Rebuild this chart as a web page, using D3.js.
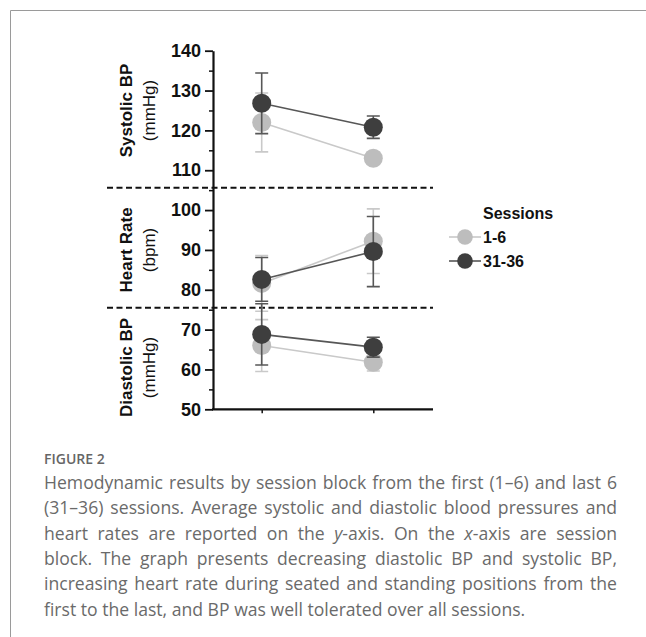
<!DOCTYPE html>
<html>
<head>
<meta charset="utf-8">
<script src="https://cdn.jsdelivr.net/npm/d3@7"></script>
<style>
  html, body { margin: 0; padding: 0; background: #fff; }
  svg { display: block; }
  .axis path, .axis line { stroke: #111; }
  .axis text { font-family: "Liberation Sans", Arial, sans-serif; font-weight: bold; font-size: 18px; fill: #111; }
</style>
</head>
<body>
<svg width="646" height="637"></svg>
<script>
//data
var positions = ["Seated", "Standing"];
var sessions = ["1-6", "31-36"];

var sbpEarly = [122.0, 113.0], sbpEarlyErr = [7.4, 1.5];
var sbpLate = [126.8, 120.8], sbpLateErr = [7.6, 2.8];
var hrEarly = [81.6, 92.2], hrEarlyErr = [7.0, 8.1];
var hrLate = [82.6, 89.6], hrLateErr = [5.5, 8.8];
var dbpEarly = [66.0, 61.8], dbpEarlyErr = [6.5, 2.2];
var dbpLate = [68.8, 65.6], dbpLateErr = [7.7, 2.5];

var yTicks = [50, 60, 70, 80, 90, 100, 110, 120, 130, 140];
var dividers = [105.6, 75.5];

var panelLabels = [
    { title: "Systolic BP", unit: "(mmHg)", mid: 125 },
    { title: "Heart Rate", unit: "(bpm)", mid: 90 },
    { title: "Diastolic BP", unit: "(mmHg)", mid: 60.5 }
];

var caption = [
    "Hemodynamic results by session block from the first (1\u20136) and last 6",
    "(31\u201336) sessions. Average systolic and diastolic blood pressures and",
    "heart rates are reported on the |y|-axis. On the |x|-axis are session",
    "block. The graph presents decreasing diastolic BP and systolic BP,",
    "increasing heart rate during seated and standing positions from the",
    "first to the last, and BP was well tolerated over all sessions."
];

var colors = { "1-6": "#bdbdbd", "31-36": "#3e3e3e" };
var lineColors = { "1-6": "#c9c9c9", "31-36": "#575757" };

var svg = d3.select("svg");

//frame
svg.append("path")
    .attr("d", "M10.5,637 L10.5,10.5 L646,10.5")
    .attr("fill", "none")
    .attr("stroke", "#9a9a9a")
    .attr("stroke-width", 1);

//scales
var y = d3.scaleLinear().domain([50, 140]).range([409.3, 50.7]);
var x = d3.scalePoint().domain(positions).range([261.7, 373.3]);
var axisX = 213, axisEnd = 433;

//dashed dividers
svg.selectAll(".divider")
    .data(dividers)
    .enter()
    .append("line")
    .attr("x1", 107).attr("x2", axisEnd)
    .attr("y1", function (d) { return y(d); })
    .attr("y2", function (d) { return y(d); })
    .attr("stroke", "#111")
    .attr("stroke-width", 2)
    .attr("stroke-dasharray", "6,3.5");

//y axis minor ticks
svg.append("g")
    .attr("class", "axis")
    .attr("transform", "translate(" + axisX + ",0)")
    .call(d3.axisLeft(y).tickValues(d3.range(55, 140, 10)).tickSize(4).tickSizeOuter(0).tickFormat(""))
    .call(function (g) { g.select(".domain").remove(); })
    .selectAll("line").attr("stroke-width", 1.5);

//y axis major
var yAxis = svg.append("g")
    .attr("class", "axis")
    .attr("transform", "translate(" + axisX + ",0)")
    .call(d3.axisLeft(y).tickValues(yTicks).tickSize(8).tickSizeOuter(0).tickPadding(4));
yAxis.select(".domain").attr("stroke-width", 2.2);
yAxis.selectAll(".tick line").attr("stroke-width", 1.8);

//x axis
var xAxis = svg.append("g")
    .attr("class", "axis")
    .attr("transform", "translate(0," + y(50) + ")")
    .call(d3.axisBottom(x).tickSize(4).tickSizeOuter(0).tickFormat(""));
xAxis.select(".domain").remove();
xAxis.selectAll(".tick line").attr("stroke-width", 1.5);
xAxis.append("line")
    .attr("x1", axisX - 1).attr("x2", axisEnd)
    .attr("stroke", "#111")
    .attr("stroke-width", 2.2);

//series
var series = [
    { name: "1-6", values: sbpEarly, err: sbpEarlyErr },
    { name: "1-6", values: hrEarly, err: hrEarlyErr },
    { name: "1-6", values: dbpEarly, err: dbpEarlyErr },
    { name: "31-36", values: sbpLate, err: sbpLateErr },
    { name: "31-36", values: hrLate, err: hrLateErr },
    { name: "31-36", values: dbpLate, err: dbpLateErr }
];

var line = d3.line()
    .x(function (d) { return x(d.pos); })
    .y(function (d) { return y(d.v); });

var capW = 6.5;

series.forEach(function (s) {
    var pts = s.values.map(function (v, i) { return { pos: positions[i], v: v, e: s.err[i] }; });
    var g = svg.append("g").attr("class", "series");

    g.selectAll(".err")
        .data(pts)
        .enter()
        .append("path")
        .attr("fill", "none")
        .attr("stroke", lineColors[s.name])
        .attr("stroke-width", 1.6)
        .attr("d", function (d) {
            var cx = x(d.pos), t = y(d.v + d.e), b = y(d.v - d.e);
            return "M" + (cx - capW) + "," + t + "H" + (cx + capW) +
                "M" + cx + "," + t + "V" + b +
                "M" + (cx - capW) + "," + b + "H" + (cx + capW);
        });

    g.append("path")
        .datum(pts)
        .attr("fill", "none")
        .attr("stroke", lineColors[s.name])
        .attr("stroke-width", 1.6)
        .attr("d", line);

    g.selectAll("circle")
        .data(pts)
        .enter()
        .append("circle")
        .attr("cx", function (d) { return x(d.pos); })
        .attr("cy", function (d) { return y(d.v); })
        .attr("r", 9.5)
        .attr("fill", colors[s.name]);
});

//panel labels
var labels = svg.selectAll(".plabel")
    .data(panelLabels)
    .enter()
    .append("g")
    .attr("class", "plabel")
    .style("font-family", "'Liberation Sans', Arial, sans-serif")
    .style("font-size", "17px")
    .attr("fill", "#111");

labels.append("text")
    .attr("transform", function (d) { return "translate(132," + y(d.mid) + ") rotate(-90)"; })
    .attr("text-anchor", "middle")
    .style("font-weight", "bold")
    .text(function (d) { return d.title; });

labels.append("text")
    .attr("transform", function (d) { return "translate(155," + y(d.mid) + ") rotate(-90)"; })
    .attr("text-anchor", "middle")
    .text(function (d) { return d.unit; });

//legend
var legend = svg.append("g")
    .attr("transform", "translate(449,219)")
    .style("font-family", "'Liberation Sans', Arial, sans-serif")
    .style("font-weight", "bold")
    .style("font-size", "16px")
    .attr("fill", "#111");

legend.append("text").attr("x", 34).attr("y", 0).text("Sessions");

var item = legend.selectAll(".item")
    .data(sessions)
    .enter()
    .append("g")
    .attr("class", "item")
    .attr("transform", function (d, i) { return "translate(0," + (18 + i * 24) + ")"; });

item.append("line")
    .attr("x1", 0).attr("x2", 32)
    .attr("stroke", function (d) { return lineColors[d]; })
    .attr("stroke-width", 1.6);
item.append("circle")
    .attr("cx", 16).attr("r", 7.8)
    .attr("fill", function (d) { return colors[d]; });
item.append("text")
    .attr("x", 34).attr("dy", "0.38em")
    .text(function (d) { return d; });

//caption
svg.append("text")
    .attr("x", 44).attr("y", 464)
    .style("font-family", "'Open Sans', 'Noto Sans', sans-serif")
    .style("font-weight", 600)
    .style("font-size", "14px")
    .attr("fill", "#666")
    .text("FIGURE 2");

var capLeft = 44, capRight = 617;
caption.forEach(function (ln, i) {
    var t = svg.append("text")
        .attr("x", capLeft)
        .attr("y", 489 + i * 25.3)
        .style("font-family", "'Open Sans', 'Noto Sans', sans-serif")
        .style("font-size", "17.6px")
        .attr("fill", "#6a6a6a");
    ln.split("|").forEach(function (part, k) {
        t.append("tspan")
            .style("font-style", k % 2 ? "italic" : "normal")
            .text(part);
    });
    if (i < caption.length - 1) {
        var w = t.node().getComputedTextLength();
        var spaces = ln.split(" ").length - 1;
        t.attr("word-spacing", (capRight - capLeft - w) / spaces);
    }
});
</script>
</body>
</html>
